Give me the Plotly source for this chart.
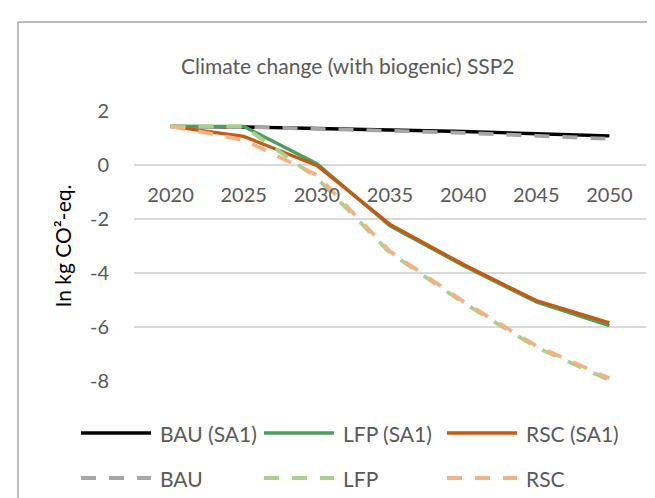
import plotly.graph_objects as go

# ---------------- data ----------------
years = [2020, 2025, 2030, 2035, 2040, 2045, 2050]

bau_sa1 = [1.43, 1.41, 1.35, 1.30, 1.24, 1.16, 1.08]
lfp_sa1 = [1.43, 1.43, 0.05, -2.25, -3.72, -5.07, -5.95]
rsc_sa1 = [1.43, 1.06, -0.02, -2.20, -3.68, -5.02, -5.85]
bau = [1.43, 1.41, 1.34, 1.27, 1.19, 1.08, 0.97]
lfp = [1.43, 1.43, -0.48, -3.25, -5.10, -6.75, -7.97]
rsc = [1.43, 0.93, -0.37, -3.20, -5.05, -6.70, -7.90]

series_names = ["BAU (SA1)", "LFP (SA1)", "RSC (SA1)", "BAU", "LFP", "RSC"]
y_tick_vals = [2, 0, -2, -4, -6, -8]
y_tick_text = ["2", "0", "-2", "-4", "-6", "-8"]
x_tick_text = ["2020", "2025", "2030", "2035", "2040", "2045", "2050"]

title_text = "Climate change (with biogenic) SSP2"
y_title = "In kg CO²-eq."

# ---------------- styling ----------------
W, H = 655, 498
L, R, T, B = 126, 17, 103, 125
PW, PH = W - L - R, H - T - B

colors = ["#000000", "#4b9f5d", "#c55a11", "#a6a6a6", "#a9d18e", "#f4b183"]
dashes = ["solid", "solid", "solid", "15px,13px", "15px,13px", "15px,13px"]
widths = [3.4, 3.4, 3.4, 3.8, 3.8, 3.8]
FONT = "Lato"


def px_x(p):
    return (p - L) / PW


def px_y(p):
    return (H - B - p) / PH


series = [bau_sa1, lfp_sa1, rsc_sa1, bau, lfp, rsc]

fig = go.Figure()
for name, vals, c, d, w in zip(series_names, series, colors, dashes, widths):
    fig.add_trace(go.Scatter(
        x=years, y=vals, name=name, mode="lines",
        line=dict(color=c, width=w, dash=d),
        showlegend=False, hoverinfo="skip",
    ))

ymin, ymax = -8, 2
zero_frac = (0 - ymin) / (ymax - ymin)

fig.update_layout(
    width=W, height=H,
    margin=dict(l=L, r=R, t=T, b=B),
    paper_bgcolor="white", plot_bgcolor="white",
    font=dict(family=FONT, color="#595959", size=20),
    xaxis=dict(
        range=[2017.5, 2052.5],
        tickvals=years, ticktext=x_tick_text,
        showgrid=False, zeroline=False,
        showline=False,
        anchor="free", position=zero_frac, side="bottom",
        ticks="outside", ticklen=12, tickcolor="rgba(0,0,0,0)",
        tickfont=dict(size=20, color="#595959", family=FONT),
    ),
    yaxis=dict(
        range=[ymin, ymax],
        tickvals=y_tick_vals, ticktext=y_tick_text,
        showgrid=True, gridcolor="#d9d9d9", gridwidth=1.5,
        zeroline=False, showline=False,
        ticks="outside", ticklen=20, tickcolor="rgba(0,0,0,0)",
        tickfont=dict(size=20, color="#595959", family=FONT),
        title=dict(text=y_title, font=dict(size=21, color="#000000", family=FONT), standoff=12),
    ),
    showlegend=False,
)

shapes = []
annotations = []

# chart border (left and top visible; right/bottom cropped)
shapes.append(dict(type="line", xref="paper", yref="paper",
                   x0=px_x(10), x1=px_x(10), y0=px_y(14), y1=px_y(H + 5),
                   line=dict(color="#a6a6a6", width=1.5)))
shapes.append(dict(type="line", xref="paper", yref="paper",
                   x0=px_x(10), x1=px_x(W + 5), y0=px_y(14), y1=px_y(14),
                   line=dict(color="#a6a6a6", width=1.5)))

# title
annotations.append(dict(text=title_text, xref="paper", yref="paper",
                        x=px_x(340), y=px_y(58), showarrow=False,
                        xanchor="center", yanchor="middle",
                        font=dict(size=21, color="#595959", family=FONT)))

# manual legend (2 rows x 3 columns)
col_x = [73, 256, 439]
row_y = [425, 470]
line_len = 70
for i, name in enumerate(series_names):
    r, c = divmod(i, 3)
    x0 = col_x[c]
    y = row_y[r]
    shapes.append(dict(type="line", xref="paper", yref="paper",
                       x0=px_x(x0), x1=px_x(x0 + line_len), y0=px_y(y), y1=px_y(y),
                       line=dict(color=colors[i], width=widths[i], dash=dashes[i])))
    annotations.append(dict(text=name, xref="paper", yref="paper",
                            x=px_x(x0 + line_len + 7), y=px_y(y), showarrow=False,
                            xanchor="left", yanchor="middle",
                            font=dict(size=21, color="#595959", family=FONT)))

fig.update_layout(shapes=shapes, annotations=annotations)

fig.write_html("out.html")
